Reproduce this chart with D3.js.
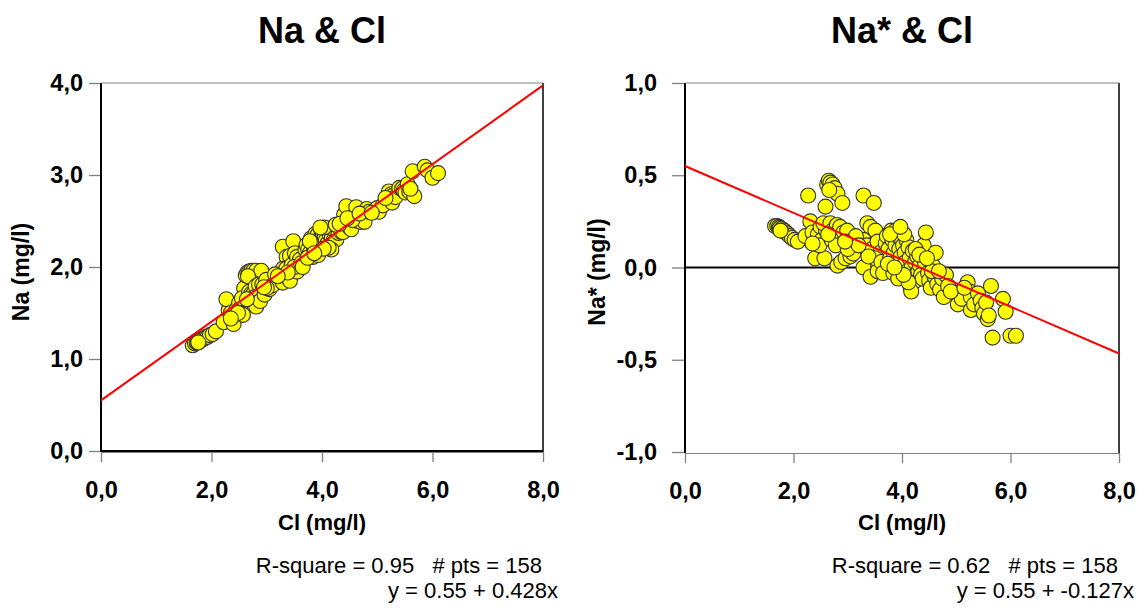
<!DOCTYPE html>
<html>
<head>
<meta charset="utf-8">
<script src="https://cdn.jsdelivr.net/npm/d3@7"></script>
<style>
  body { margin: 0; background: #fff; }
  svg text { font-family: Arial, "Liberation Sans", sans-serif; }
</style>
</head>
<body>
<svg id="chart" width="1144" height="613"></svg>
<script>
// Cl (mg/l), same samples in both panels
const clValues = [
  1.66, 1.70, 1.73, 1.75, 1.78, 1.80, 1.83, 1.86, 1.90, 1.93, 1.97, 2.02, 2.08, 1.76,
  2.22, 2.31, 2.27, 2.35, 2.40, 2.45, 2.50, 2.52, 2.57, 2.59, 2.60, 2.55, 2.48,
  2.62, 2.65, 2.68, 2.72, 2.76, 2.81, 2.90, 2.66,
  2.68, 2.72, 2.76, 2.80, 2.86, 2.92, 2.99, 2.70, 2.78, 2.81, 2.88, 2.96, 3.05, 3.10,
  3.29, 3.48, 3.36, 3.42, 3.51, 3.29, 3.35, 3.45, 3.55, 3.60, 3.29, 3.42, 3.55, 3.50, 3.38, 3.62, 3.65,
  3.70, 3.72, 3.75, 3.78, 3.80, 3.82, 3.84, 3.85, 3.88, 3.88, 3.90, 3.92, 3.95, 3.96, 3.98, 4.00, 3.74, 3.93,
  4.02, 4.05, 4.07, 4.08, 4.10, 4.12, 4.14, 4.16, 4.18, 4.20, 4.21, 4.24, 4.26, 4.28, 4.30, 4.33, 4.35, 4.38,
  4.40, 4.44, 4.42, 4.17, 4.04, 4.12,
  4.48, 4.50, 4.53, 4.57, 4.60, 4.62, 4.65, 4.70, 4.74, 4.77, 4.81, 4.85, 4.55,
  5.00, 5.03, 5.10, 5.21, 5.25, 5.27, 5.27, 5.33, 5.40, 5.45, 5.48, 5.51, 5.58, 5.55, 5.64, 5.67, 5.86, 5.91,
  6.00, 6.10, 5.60,
  3.00, 3.15, 3.20, 2.95, 3.78, 3.97, 4.25, 4.32, 4.46, 4.68, 4.90, 4.03, 3.86, 2.64, 2.35, 5.15
];

// Na (mg/l)
const naValues = [
  1.15, 1.17, 1.18, 1.19, 1.20, 1.20, 1.22, 1.22, 1.24, 1.24, 1.26, 1.27, 1.30, 1.18,
  1.40, 1.53, 1.65, 1.50, 1.38, 1.54, 1.61, 1.55, 1.48, 1.77, 1.65, 1.66, 1.50,
  1.91, 1.94, 1.95, 1.96, 1.96, 1.96, 1.96, 1.90,
  1.73, 1.71, 1.71, 1.79, 1.81, 1.81, 1.86, 1.65, 1.67, 1.57, 1.63, 1.70, 1.76, 1.80,
  2.22, 2.28, 2.11, 2.12, 2.15, 1.98, 1.98, 2.02, 2.11, 2.08, 1.83, 1.85, 1.95, 2.00, 1.94, 2.04, 2.00,
  2.19, 2.24, 2.19, 2.15, 2.31, 2.27, 2.11, 2.22, 2.36, 2.28, 2.20, 2.35, 2.30, 2.19, 2.27, 2.37, 2.10, 2.13,
  2.36, 2.33, 2.29, 2.42, 2.26, 2.40, 2.35, 2.20, 2.32, 2.43, 2.29, 2.39, 2.30, 2.44, 2.37, 2.42, 2.38, 2.38,
  2.57, 2.66, 2.49, 2.19, 2.43, 2.21,
  2.46, 2.43, 2.41, 2.55, 2.51, 2.65, 2.50, 2.49, 2.58, 2.49, 2.63, 2.60, 2.51,
  2.64, 2.60, 2.67, 2.82, 2.79, 2.77, 2.70, 2.76, 2.86, 2.85, 2.83, 2.81, 2.82, 2.90, 3.04, 2.77, 3.09, 3.05,
  2.97, 3.02, 2.85,
  1.77, 1.92, 1.90, 1.78, 2.28, 2.43, 2.46, 2.47, 2.53, 2.58, 2.59, 2.20, 2.15, 1.65, 1.44, 2.75
];

// Na* (mg/l)
const naStarValues = [
  0.225, 0.225, 0.22, 0.215, 0.21, 0.20, 0.20, 0.19, 0.18, 0.17, 0.16, 0.15, 0.14, 0.20,
  0.17, 0.25, 0.39, 0.19, 0.05, 0.18, 0.22, 0.15, 0.05, 0.33, 0.20, 0.24, 0.12,
  0.45, 0.47, 0.46, 0.45, 0.43, 0.40, 0.35, 0.42,
  0.24, 0.20, 0.18, 0.23, 0.22, 0.19, 0.20, 0.15, 0.12, 0.01, 0.03, 0.05, 0.06, 0.075,
  0.39, 0.35, 0.24, 0.22, 0.20, 0.15, 0.12, 0.10, 0.14, 0.08, 0.00, -0.05, -0.02, 0.05, 0.06, 0.03, -0.03,
  0.13, 0.17, 0.10, 0.05, 0.20, 0.15, -0.03, 0.08, 0.20, 0.12, 0.03, 0.17, 0.10, -0.01, 0.06, 0.15, 0.02, -0.06,
  0.12, 0.08, 0.03, 0.15, -0.02, 0.11, 0.05, -0.11, 0.00, 0.09, -0.05, 0.03, -0.07, 0.06, -0.02, 0.01, -0.04, -0.06,
  0.12, 0.19, 0.03, -0.13, 0.18, -0.08,
  -0.03, -0.07, -0.11, 0.01, -0.05, 0.08, -0.09, -0.12, -0.06, -0.16, -0.04, -0.10, -0.02,
  -0.14, -0.20, -0.17, -0.08, -0.13, -0.16, -0.23, -0.20, -0.14, -0.18, -0.22, -0.25, -0.28, -0.19, -0.10, -0.38, -0.17, -0.24,
  -0.37, -0.37, -0.26,
  0.10, 0.17, 0.12, 0.14, 0.18, 0.22, 0.10, 0.07, 0.05, -0.02, -0.13, -0.04, 0.00, 0.18, 0.13, -0.11
];

const xTicks = [0, 2, 4, 6, 8];
const naTicks = [0, 1, 2, 3, 4];
const naStarTicks = [-1, -0.5, 0, 0.5, 1];

// regression lines: [intercept, slope]
const naFit = [0.55, 0.428];
const naStarFit = [0.55, -0.127];

const panels = [
  {
    title: 'Na & Cl', yLabel: 'Na (mg/l)', ys: naValues, yDomain: [0, 4], yTicks: naTicks,
    fit: naFit, stats: ['R-square = 0.95   # pts = 158', 'y = 0.55 + 0.428x'],
    left: 101, right: 543, top: 83, bottom: 451, tick: 11, labelGap: 17, titleGap: 72
  },
  {
    title: 'Na* & Cl', yLabel: 'Na* (mg/l)', ys: naStarValues, yDomain: [-1, 1], yTicks: naStarTicks,
    fit: naStarFit, stats: ['R-square = 0.62   # pts = 158', 'y = 0.55 + -0.127x'],
    left: 685, right: 1119, top: 83, bottom: 452, tick: 12, labelGap: 27, titleGap: 80
  }
];

const svg = d3.select('#chart');
const fmt = d3.format('.1f');
const comma = (d) => fmt(d).replace('.', ',').replace('\u2212', '-');

panels.forEach((p) => {
  const x = d3.scaleLinear().domain([0, 8]).range([p.left, p.right]);
  const y = d3.scaleLinear().domain(p.yDomain).range([p.bottom, p.top]);
  const g = svg.append('g');

  // title
  g.append('text')
    .attr('x', (p.left + p.right) / 2)
    .attr('y', 43)
    .attr('text-anchor', 'middle')
    .style('font-size', '36px')
    .style('font-weight', 'bold')
    .text(p.title);

  // axes
  const xAxis = g.append('g')
    .attr('transform', `translate(0, ${p.bottom + 1})`)
    .call(d3.axisBottom(x).tickValues(xTicks).tickFormat(comma).tickSize(10).tickSizeOuter(0));
  const yAxis = g.append('g')
    .attr('transform', `translate(${p.left - 1}, 0)`)
    .call(d3.axisLeft(y).tickValues(p.yTicks).tickFormat(comma).tickSize(p.tick).tickSizeOuter(0));

  [xAxis, yAxis].forEach((a) => {
    a.select('.domain').attr('stroke', '#808080').attr('stroke-width', 1);
    a.selectAll('.tick line').attr('stroke', '#808080').attr('stroke-width', 1.3);
    a.selectAll('.tick text')
      .attr('fill', '#000')
      .style('font-size', '23.5px')
      .style('font-weight', 'bold')
      .style('font-family', 'Arial, "Liberation Sans", sans-serif');
  });
  xAxis.selectAll('.tick text').attr('y', 46).attr('dy', 0);
  yAxis.selectAll('.tick text').attr('x', -p.labelGap);

  // frame
  g.append('line')
    .attr('x1', p.left).attr('x2', p.left)
    .attr('y1', p.top).attr('y2', p.bottom + 1)
    .attr('stroke', '#000').attr('stroke-width', 2);
  g.append('line')
    .attr('x1', p.right).attr('x2', p.right)
    .attr('y1', p.top).attr('y2', p.bottom + 1)
    .attr('stroke', '#000').attr('stroke-width', 1.5);
  g.append('line')
    .attr('x1', p.left).attr('x2', p.right)
    .attr('y1', p.top).attr('y2', p.top)
    .attr('stroke', '#808080').attr('stroke-width', 1);

  // zero reference line
  g.append('line')
    .attr('x1', p.left).attr('x2', p.right)
    .attr('y1', y(0)).attr('y2', y(0))
    .attr('stroke', '#000').attr('stroke-width', 2);

  // points
  g.append('g')
    .selectAll('circle')
    .data(clValues.map((c, i) => [c, p.ys[i]]))
    .enter()
    .append('circle')
    .attr('cx', (d) => x(d[0]))
    .attr('cy', (d) => y(d[1]))
    .attr('r', 7.5)
    .attr('fill', '#ffff00')
    .attr('stroke', '#333')
    .attr('stroke-width', 1.1);

  // regression line
  g.append('line')
    .attr('x1', x(0)).attr('y1', y(p.fit[0]))
    .attr('x2', x(8)).attr('y2', y(p.fit[0] + p.fit[1] * 8))
    .attr('stroke', '#ff0000')
    .attr('stroke-width', 2);

  // axis titles
  g.append('text')
    .attr('x', (p.left + p.right) / 2)
    .attr('y', 530)
    .attr('text-anchor', 'middle')
    .style('font-size', '22px')
    .style('font-weight', 'bold')
    .text('Cl (mg/l)');
  g.append('text')
    .attr('transform', `translate(${p.left - p.titleGap}, 272) rotate(-90)`)
    .attr('text-anchor', 'middle')
    .style('font-size', '23px')
    .style('font-weight', 'bold')
    .text(p.yLabel);

  // stats
  g.append('text')
    .attr('x', p.right - 1)
    .attr('y', 573)
    .attr('text-anchor', 'end')
    .style('font-size', '22px')
    .style('white-space', 'pre')
    .text(p.stats[0]);
  g.append('text')
    .attr('x', p.right + 15)
    .attr('y', 598)
    .attr('text-anchor', 'end')
    .style('font-size', '22px')
    .text(p.stats[1]);
});
</script>
</body>
</html>
